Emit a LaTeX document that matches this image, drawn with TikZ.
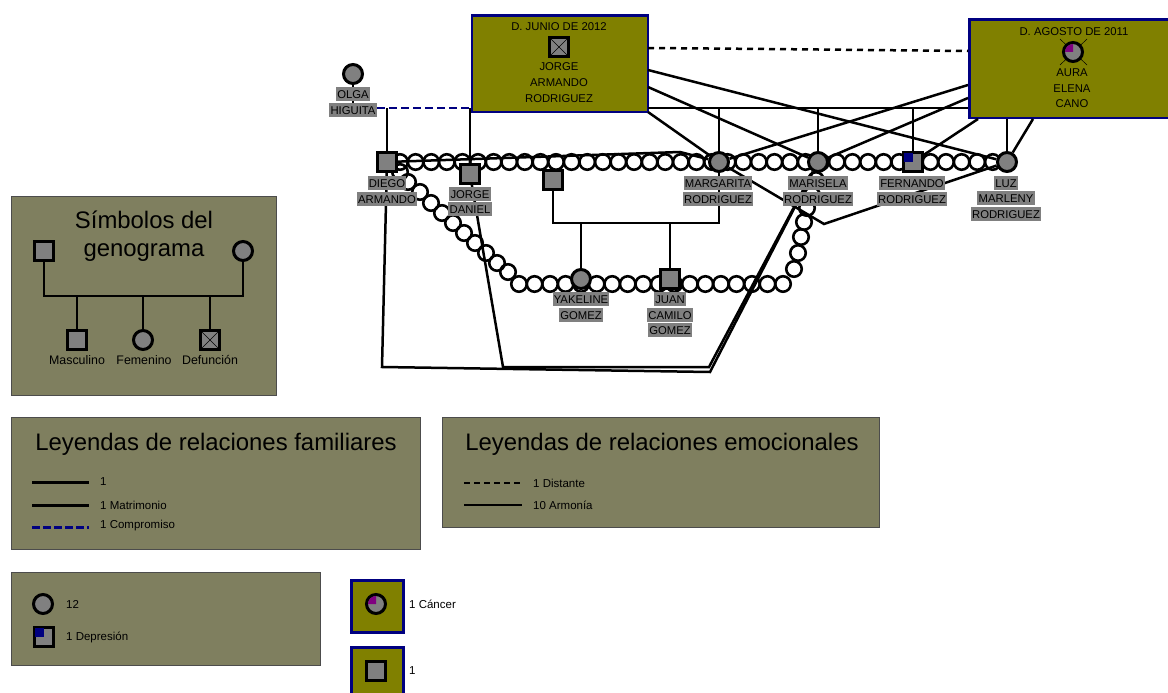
\documentclass[tikz,border=0pt]{standalone}
\usepackage{fontspec}
\setmainfont{Liberation Sans}
\definecolor{legendfill}{HTML}{7F7F5F}
\definecolor{boxfill}{HTML}{808000}
\definecolor{boxline}{HTML}{000080}
\definecolor{symfill}{HTML}{808080}
\definecolor{cancerfill}{HTML}{800080}
\tikzset{
  legendbox/.style={rectangle, draw=black!70, fill=legendfill, line width=0.8pt, inner sep=0pt, anchor=north west},
  deadbox/.style={rectangle, draw=boxline, fill=boxfill, line width=2.8pt, inner sep=0pt, anchor=north west},
  male/.style={rectangle, draw, fill=symfill, line width=3pt, minimum size=18.5pt, inner sep=0pt},
  female/.style={circle, draw, fill=symfill, line width=3pt, minimum size=19pt, inner sep=0pt},
  bead/.style={circle, draw, line width=2.6pt, minimum size=15.5pt, inner sep=0pt},
  link/.style={draw, line width=2.5pt},
  nametag/.style={rectangle, fill=symfill, font=\fontsize{11.3}{12}\selectfont, text height=8.2pt, text depth=0pt, inner xsep=1.2pt, inner ysep=3pt},
  boxtext/.style={font=\fontsize{11.3}{12}\selectfont, text height=8.2pt, text depth=0pt, inner sep=0pt},
  symboltext/.style={font=\fontsize{12.4}{13}\selectfont, inner sep=0pt},
  legendtext/.style={font=\fontsize{11.5}{13}\selectfont, inner sep=0pt, anchor=west},
  legendtitle/.style={font=\fontsize{23.9}{25}\selectfont, inner sep=0pt, anchor=base}
}
\begin{document}
\begin{tikzpicture}[x=1pt, y=-1pt]
\useasboundingbox (0,0) rectangle (1168,693);
% legend panels
\node[legendbox, minimum width=265pt, minimum height=199pt] (symbolpanel) at (11,196) {};
\node[legendbox, minimum width=409pt, minimum height=132pt] (familypanel) at (11,417) {};
\node[legendbox, minimum width=437pt, minimum height=110pt] (emotionpanel) at (442,417) {};
\node[legendbox, minimum width=309pt, minimum height=93pt] (illnesspanel) at (11,572) {};
\node[deadbox, minimum width=52pt, minimum height=52pt] (cancerpanel) at (350,579) {};
\node[deadbox, minimum width=52pt, minimum height=60pt] (otherpanel) at (350,646) {};
% the two deceased parents
\node[deadbox, minimum width=176pt, minimum height=96.5pt] (jorgebox) at (470.5,14) {};
\node[deadbox, minimum width=210pt, minimum height=98pt] (aurabox) at (968,18.5) {};
% conflict chains
\foreach \k in {0,...,38}
  \node[bead] (topbead\k) at ({400+15.6*\k},162) {};
\foreach \k in {0,...,17}
  \node[bead] (lowbead\k) at ({519+15.53*\k},284) {};
\foreach \x/\y [count=\k] in {400/172,408/182,420/192,431/203,442/213,453/223,464/233,475/243,486/253,497/263,508/272}
  \node[bead] (leftbead\k) at (\x,\y) {};
\foreach \x/\y [count=\k] in {794/269,798/253,801/237,804/222,807/208,812/195,816/180}
  \node[bead] (rightbead\k) at (\x,\y) {};
% people
\node[female] (olga) at (353,74) {};
\node[male] (diego) at (387,162) {};
\node[male] (jorged) at (470,174) {};
\node[male] (partner) at (553,180) {};
\node[female] (margarita) at (719,162) {};
\node[female] (marisela) at (818,162) {};
\node[male] (fernando) at (913,162) {};
\node[female] (luz) at (1007,162) {};
\node[female] (yakeline) at (581,279) {};
\node[male] (juan) at (670,279) {};
\fill[boxline] (fernando.north west) ++(1.5,1.5) rectangle (fernando.center);
% free ends of the connectors
\coordinate (olgafoot) at (353,108);
\coordinate (engaged) at (387,108);
\coordinate (jorgewest) at (470,108);
\coordinate (jorgeeast) at (648,108);
\coordinate (auraeast) at (968,108);
\coordinate (margtop) at (719,108);
\coordinate (maritop) at (818,108);
\coordinate (fertop) at (913,108);
\coordinate (jorgedash) at (648,48);
\coordinate (dashbend) at (768,49);
\coordinate (auradash) at (968,51);
\coordinate (jorgeA) at (648,70);
\coordinate (jorgeB) at (648,87);
\coordinate (jorgeC) at (648,112);
\coordinate (auraA) at (968,85);
\coordinate (auraB) at (968,98);
\coordinate (auraC) at (978,119);
\coordinate (auraD) at (1007,119);
\coordinate (auraE) at (1033,119);
\coordinate (kidsleft) at (553,223);
\coordinate (kidsright) at (719,223);
\coordinate (yakup) at (581,223);
\coordinate (juanup) at (670,223);
\coordinate (topbend) at (680,152);
\coordinate (rightdip) at (824,224);
\coordinate (floorA) at (382,367);
\coordinate (floorB) at (710,372);
\coordinate (floorC) at (503,367);
\coordinate (floorD) at (709,367);
% family connectors
\draw[link] (olga) -- (olgafoot);
\draw[link, boxline, dash pattern=on 8pt off 4pt] (olgafoot) -- (jorgewest);
\draw[link] (engaged) -- (diego);
\draw[link] (jorgewest) -- (jorged);
\draw[link, line width=2pt] (jorgeeast) -- (auraeast);
\draw[link] (margtop) -- (margarita);
\draw[link] (maritop) -- (marisela);
\draw[link] (fertop) -- (fernando);
\draw[link] (auraD) -- (luz);
\draw[link] (partner) -- (kidsleft) -- (kidsright) -- (margarita);
\draw[link] (yakup) -- (yakeline);
\draw[link] (juanup) -- (juan);
% emotional connectors
\draw[link, dash pattern=on 6pt off 5pt] (jorgedash) -- (dashbend) -- (auradash);
\draw[link] (jorgeA) -- (luz);
\draw[link] (jorgeB) -- (marisela);
\draw[link] (jorgeC) -- (margarita);
\draw[link] (auraA) -- (margarita);
\draw[link] (auraB) -- (marisela);
\draw[link] (auraC) -- (fernando);
\draw[link] (auraE) -- (luz);
\draw[link] (diego) -- (topbend) -- (margarita);
\draw[link] (margarita) -- (rightdip) -- (luz);
\draw[link] (diego) -- (floorA) -- (floorB) -- (marisela);
\draw[link] (jorged) -- (floorC) -- (floorD) -- (marisela);
% name tags
\node[nametag] (olga1) at (353,94) {OLGA};
\node[nametag] (olga2) at (353,110) {HIGUITA};
\node[nametag] (diego1) at (387,183) {DIEGO};
\node[nametag] (diego2) at (387,199) {ARMANDO};
\node[nametag] (jorged1) at (470,194) {JORGE};
\node[nametag] (jorged2) at (470,209) {DANIEL};
\node[nametag] (marg1) at (718,183) {MARGARITA};
\node[nametag] (marg2) at (718,199) {RODRIGUEZ};
\node[nametag] (mari1) at (818,183) {MARISELA};
\node[nametag] (mari2) at (818,199) {RODRIGUEZ};
\node[nametag] (fer1) at (912,183) {FERNANDO};
\node[nametag] (fer2) at (912,199) {RODRIGUEZ};
\node[nametag] (luz1) at (1006,183) {LUZ};
\node[nametag] (luz2) at (1006,198) {MARLENY};
\node[nametag] (luz3) at (1006,214) {RODRIGUEZ};
\node[nametag] (yak1) at (581,299) {YAKELINE};
\node[nametag] (yak2) at (581,315) {GOMEZ};
\node[nametag] (juan1) at (670,299) {JUAN};
\node[nametag] (juan2) at (670,315) {CAMILO};
\node[nametag] (juan3) at (670,330) {GOMEZ};
% inside the two boxes
\node[boxtext] (jorgedate) at (559,26) {D. JUNIO DE 2012};
\node[male] (jorgesym) at (559,47) {};
\draw[line width=0.4pt] (jorgesym.north west) -- (jorgesym.south east);
\draw[line width=0.4pt] (jorgesym.north east) -- (jorgesym.south west);
\node[boxtext] (jorge1) at (559,66) {JORGE};
\node[boxtext] (jorge2) at (559,82) {ARMANDO};
\node[boxtext] (jorge3) at (559,98) {RODRIGUEZ};
\node[boxtext] (auradate) at (1074,31) {D. AGOSTO DE 2011};
\coordinate (crossA) at (1060,39);
\coordinate (crossB) at (1087,65);
\coordinate (crossC) at (1087,39);
\coordinate (crossD) at (1060,65);
\draw[line width=0.5pt] (crossA) -- (crossB);
\draw[line width=0.5pt] (crossC) -- (crossD);
\node[female] (aurasym) at (1073,52) {};
\fill[cancerfill] (aurasym.center) -- ++(0,-8) arc[start angle=90, end angle=180, radius=8pt] -- cycle;
\node[boxtext] (aura1) at (1072,72) {AURA};
\node[boxtext] (aura2) at (1072,88) {ELENA};
\node[boxtext] (aura3) at (1072,103) {CANO};
% genogram symbols legend
\node[legendtitle] (symtitle1) at (144,228) {Símbolos del};
\node[legendtitle] (symtitle2) at (144,256) {genograma};
\node[male] (legfather) at (44,251) {};
\node[female] (legmother) at (243,251) {};
\node[male] (legson) at (77,340) {};
\node[female] (legdaughter) at (143,340) {};
\node[male] (legdead) at (210,340) {};
\draw[line width=0.4pt] (legdead.north west) -- (legdead.south east);
\draw[line width=0.4pt] (legdead.north east) -- (legdead.south west);
\coordinate (legleft) at (44,296);
\coordinate (legright) at (243,296);
\coordinate (legA) at (77,296);
\coordinate (legB) at (143,296);
\coordinate (legC) at (210,296);
\draw[link] (legfather) -- (legleft) -- (legright) -- (legmother);
\draw[link] (legA) -- (legson);
\draw[link] (legB) -- (legdaughter);
\draw[link] (legC) -- (legdead);
\node[symboltext] (legson1) at (77,360) {Masculino};
\node[symboltext] (legdaughter1) at (144,360) {Femenino};
\node[symboltext] (legdead1) at (210,360) {Defunción};
% family relations legend
\node[legendtitle] (famtitle) at (216,450) {Leyendas de relaciones familiares};
\coordinate (famA1) at (32,482);
\coordinate (famA2) at (89,482);
\coordinate (famB1) at (32,505);
\coordinate (famB2) at (89,505);
\coordinate (famC1) at (32,527);
\coordinate (famC2) at (89,527);
\draw[link, line width=3pt] (famA1) -- (famA2);
\draw[link, line width=3pt] (famB1) -- (famB2);
\draw[link, line width=3pt, boxline, dash pattern=on 8pt off 3pt] (famC1) -- (famC2);
\node[legendtext] (famA) at (100,482) {1};
\node[legendtext] (famB) at (100,505) {1 Matrimonio};
\node[legendtext] (famC) at (100,526) {1 Compromiso};
% emotional relations legend
\node[legendtitle] (emotitle) at (662,450) {Leyendas de relaciones emocionales};
\coordinate (emoA1) at (464,483);
\coordinate (emoA2) at (522,483);
\coordinate (emoB1) at (464,505);
\coordinate (emoB2) at (522,505);
\draw[link, dash pattern=on 6pt off 4pt] (emoA1) -- (emoA2);
\draw[link] (emoB1) -- (emoB2);
\node[legendtext] (emoA) at (533,483) {1 Distante};
\node[legendtext] (emoB) at (533,505) {10 Armonía};
% illness legend
\node[female] (illA) at (43,604) {};
\node[male] (illB) at (44,637) {};
\fill[boxline] (illB.north west) ++(1.5,1.5) rectangle (illB.center);
\node[legendtext] (illAtext) at (66,604) {12};
\node[legendtext] (illBtext) at (66,637) {1 Depresión};
\node[female] (cancersym) at (376,604) {};
\fill[cancerfill] (cancersym.center) -- ++(0,-8) arc[start angle=90, end angle=180, radius=8pt] -- cycle;
\node[male] (othersym) at (376,671) {};
\node[legendtext] (cancertext) at (409,604) {1 Cáncer};
\node[legendtext] (othertext) at (409,671) {1};
\end{tikzpicture}
\end{document}
